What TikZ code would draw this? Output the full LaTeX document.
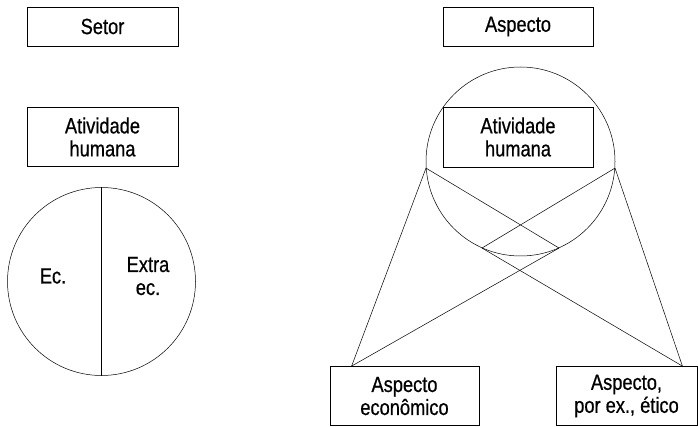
\documentclass[tikz,border=0pt]{standalone}
\usepackage{fontspec}
\setmainfont{Liberation Sans}[FakeStretch=0.83,FakeBold=0.6]

\begin{document}
\begin{tikzpicture}[x=1pt,y=-1pt,
    font=\fontsize{22}{23}\selectfont,
    box/.style={draw,line width=0.8pt,align=center,minimum width=151pt,inner sep=0pt},
    ring/.style={draw,circle,line width=0.5pt,minimum size=188pt,inner sep=0pt},
    lbl/.style={align=center,inner sep=0pt},
    link/.style={line width=0.5pt}]
  \useasboundingbox (0,0) rectangle (698,427);
  \def\oneline{39pt};
  \def\twoline{59pt};

  % left: the sector view
  \node[box,minimum height=\oneline] (setor) at (102.5,26.5) {Setor};
  \node[box,minimum height=\twoline] (humL) at (102.5,137) {Atividade\\humana};
  \node[ring] (circL) at (101.5,281.5) {};
  \draw[link] (circL.north) -- (circL.south);
  \node[lbl] (ec) at (53,276) {Ec.};
  \node[lbl] (extra) at (148,276) {Extra\\ec.};

  % right: the aspect view
  \node[box,minimum width=150pt,minimum height=\oneline] (aspecto) at (518,26.5) {Aspecto};
  \node[ring,minimum size=189pt] (circR) at (520.5,161.5) {};
  \node[box,minimum width=150pt,minimum height=60pt] (humR) at (518,137) {Atividade\\humana};
  \node[box,minimum width=149pt,minimum height=\twoline] (econ) at (404.5,396) {Aspecto\\econômico};
  \node[box,minimum width=141pt,minimum height=\twoline] (etico) at (626.5,396) {Aspecto,\\por ex., ético};

  \coordinate (pL) at (circR.184);
  \coordinate (pR) at (circR.356);
  \coordinate (p1) at (circR.246);
  \coordinate (p2) at (circR.294);
  \coordinate (qA) at ([xshift=22pt]econ.north west);
  \coordinate (qB) at ([xshift=-15pt]etico.north east);

  \foreach \a/\b in {pL/qA,pR/qB,pL/p2,pR/p1,p1/qB,p2/qA} { %each crossing line
    \draw[link] (\a) -- (\b);
  }
\end{tikzpicture}
\end{document}
